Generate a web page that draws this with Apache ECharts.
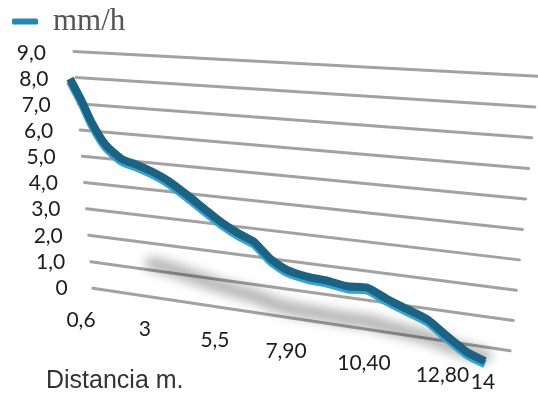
<!DOCTYPE html>
<html><head><meta charset="utf-8">
<script src="https://cdn.jsdelivr.net/npm/echarts@6/dist/echarts.min.js"></script>
<style>html,body{margin:0;padding:0;background:#fff}#c{width:538px;height:402px}</style>
</head><body><div id="c"></div>
<script>
// ---- data ----
const distance = [0.6, 1.05, 1.4, 1.9, 2.5, 3.0, 3.55, 4.15, 4.8, 5.4, 5.95, 6.55, 7.0, 7.55, 8.05, 8.7, 9.35, 9.95, 10.55, 11.15, 11.75, 12.35, 12.9, 13.5, 14];
const rate = [7.9, 7.05, 6.3, 5.5, 5.0, 4.85, 4.65, 4.35, 3.9, 3.45, 3.05, 2.7, 2.5, 1.95, 1.65, 1.5, 1.45, 1.35, 1.4, 1.1, 0.85, 0.6, 0.15, -0.3, -0.5];
const yTicks = [0, 1, 2, 3, 4, 5, 6, 7, 8, 9];
const yTickLabels = ['0', '1,0', '2,0', '3,0', '4,0', '5,0', '6,0', '7,0', '8,0', '9,0'];
const xTicks = [0.6, 3, 5.5, 7.9, 10.4, 12.8, 14];
const xTickLabels = ['0,6', '3', '5,5', '7,90', '10,40', '12,80', '14'];
const seriesName = 'mm/h';
const axisTitle = 'Distancia m.';

// ---- perspective helpers (pixel space) ----
const GX0 = 70, GX1 = 485;
function warpX(px) { return px + 0.14 * (px - GX0) * (px - GX1) / (GX1 - GX0); }
function skewY(px, py) { const t = (px - 85) / 440; return py + t * (0.18 * py + 14.3); }
function proj(api, d, v) {
  const c = api.coord([d, v]);
  const x = warpX(c[0]);
  return [x, skewY(x, c[1])];
}

const chart = echarts.init(document.getElementById('c'), null, {renderer: 'canvas'});
const labelFont = 'Lato, "Open Sans", sans-serif';

const option = {
  animation: false,
  backgroundColor: '#fff',
  title: {
    text: axisTitle, left: 41, top: 364,
    textStyle: {fontFamily: '"Liberation Sans", Arial, sans-serif', fontSize: 25, fontWeight: 'normal', color: '#333'}
  },
  legend: {
    left: 7, top: 1, data: [seriesName], icon: 'roundRect', itemWidth: 26, itemHeight: 6,
    textStyle: {fontFamily: '"Liberation Serif", serif', fontSize: 31, color: '#555', padding: [0, 0, 0, 10]}
  },
  grid: {left: GX0, width: GX1 - GX0, top: 52, height: 235},
  xAxis: {type: 'value', min: 0.6, max: 14, show: false},
  yAxis: {type: 'value', min: 0, max: 9, interval: 1, show: false},
  series: [
    {
      type: 'custom', name: 'grid', silent: true, clip: false, z: 1,
      data: yTicks.map(v => [xTicks[0], v]),
      renderItem: function (params, api) {
        const v = api.value(1);
        const py = api.coord([xTicks[0], v])[1];
        const xl = 74 + (9 - v) * 2.1, xr = 538 - (9 - v) * 3.1;
        return {type: 'line', shape: {x1: xl, y1: skewY(xl, py), x2: xr, y2: skewY(xr, py)},
          style: {stroke: '#a2a2a2', lineWidth: 3, lineCap: 'round'}};
      }
    },
    {
      type: 'custom', name: 'ylabels', silent: true, clip: false, z: 2,
      data: yTicks.map((v, i) => [xTicks[0], v, i]),
      renderItem: function (params, api) {
        const v = api.value(1);
        const py = api.coord([xTicks[0], v])[1];
        return {type: 'text', style: {text: yTickLabels[params.dataIndex], x: 46 + (9 - v) * 2.4, y: py + 1,
          align: 'right', verticalAlign: 'middle', font: '21px ' + labelFont, fill: '#1c1c1c'}};
      }
    },
    {
      type: 'custom', name: 'xlabels', silent: true, clip: false, z: 2,
      data: xTicks.map(d => [d, 0]),
      renderItem: function (params, api) {
        const p = proj(api, api.value(0), 0);
        const dx = 11 - 13 * (p[0] - GX0) / (GX1 - GX0);
        return {type: 'text', style: {text: xTickLabels[params.dataIndex], x: p[0] + dx, y: p[1] + 35,
          align: 'center', verticalAlign: 'middle', font: '21px ' + labelFont, fill: '#1c1c1c'}};
      }
    },
    {
      type: 'custom', name: seriesName, clip: false, z: 5,
      itemStyle: {color: '#2589ae'},
      data: distance.map((d, i) => [d, rate[i]]),
      renderItem: function (params, api) {
        if (params.dataIndex !== 0) return null;
        const pts = distance.map((d, i) => proj(api, d, rate[i]));
        const sh = [];
        for (let i = 6; i < distance.length; i++) {
          const p = proj(api, distance[i], rate[i] * 0.3 - 0.15);
          sh.push([p[0] - 2000, p[1]]);
        }
        const off = (arr, dy) => arr.map(p => [p[0], p[1] + dy]);
        return {type: 'group', children: [
          {type: 'polyline', shape: {points: sh, smooth: 0.3},
            style: {stroke: '#000', lineWidth: 12, lineCap: 'round', lineJoin: 'round', fill: null,
              shadowColor: 'rgba(0,0,0,0.34)', shadowBlur: 12, shadowOffsetX: 2000, shadowOffsetY: 0}},
          {type: 'polyline', shape: {points: off(pts, 2), smooth: 0.2},
            style: {stroke: '#3aa2cf', lineWidth: 8, lineCap: 'butt', lineJoin: 'round', fill: null}},
          {type: 'polyline', shape: {points: off(pts, -1), smooth: 0.2},
            style: {stroke: '#1c6383', lineWidth: 8, lineCap: 'butt', lineJoin: 'round', fill: null}}
        ]};
      }
    }
  ]
};
chart.setOption(option);
</script>
</body></html>
